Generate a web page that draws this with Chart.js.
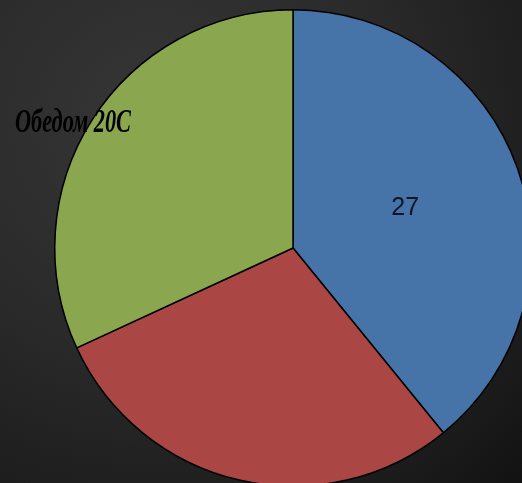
<!DOCTYPE html>
<html>
<head>
<meta charset="utf-8">
<script src="https://cdn.jsdelivr.net/npm/chart.js@4/dist/chart.umd.min.js"></script>
<style>
  html, body {
    margin: 0;
    width: 522px;
    height: 483px;
    overflow: hidden;
  }
  body {
    background: radial-gradient(ellipse at 30% 25%, #363636 0%, #2a2a2a 45%, #1a1a1a 85%, #121212 100%);
    position: relative;
  }
  #wrap {
    position: absolute;
    left: 0;
    top: 0;
    width: 532px;
    height: 487px;
  }
</style>
</head>
<body>
<div id="wrap"><canvas id="pieChart"></canvas></div>
<script>
  const categories = ["Утром", "Вечером", "Обедом 20С"];
  const values = [27, 20, 22];
  const sliceColors = ["#4674a8", "#aa4744", "#8aa64f"];

  // value label inside the first slice, caption text for the last one
  const sliceLabels = {
    id: "sliceLabels",
    afterDatasetsDraw(chart) {
      const ctx = chart.ctx;
      const arcs = chart.getDatasetMeta(0).data;

      const pos = arcs[0].tooltipPosition();
      ctx.save();
      ctx.fillStyle = "#0a1528";
      ctx.font = "25px 'Liberation Sans', Arial, sans-serif";
      ctx.textAlign = "center";
      ctx.textBaseline = "middle";
      ctx.fillText(String(values[0]), pos.x, pos.y);
      ctx.restore();

      // caption sits to the left of the pie, partly over the green slice
      const text = categories[2];
      ctx.save();
      ctx.font = "italic bold 34px 'Liberation Serif', 'Times New Roman', serif";
      const w = ctx.measureText(text).width;
      ctx.translate(15, 123);
      ctx.scale(116 / w, 1);
      ctx.fillStyle = "#000";
      ctx.textAlign = "left";
      ctx.textBaseline = "middle";
      ctx.fillText(text, 0, 0);
      ctx.restore();
    }
  };

  new Chart(document.getElementById("pieChart"), {
    type: "pie",
    data: {
      labels: categories,
      datasets: [{
        data: values,
        backgroundColor: sliceColors,
        borderColor: "#000",
        borderWidth: 1.5
      }]
    },
    options: {
      responsive: true,
      maintainAspectRatio: false,
      animation: false,
      layout: { padding: { left: 54, top: 9, right: 0, bottom: 0 } },
      plugins: {
        legend: { display: false },
        tooltip: { enabled: false }
      }
    },
    plugins: [sliceLabels]
  });
</script>
</body>
</html>
